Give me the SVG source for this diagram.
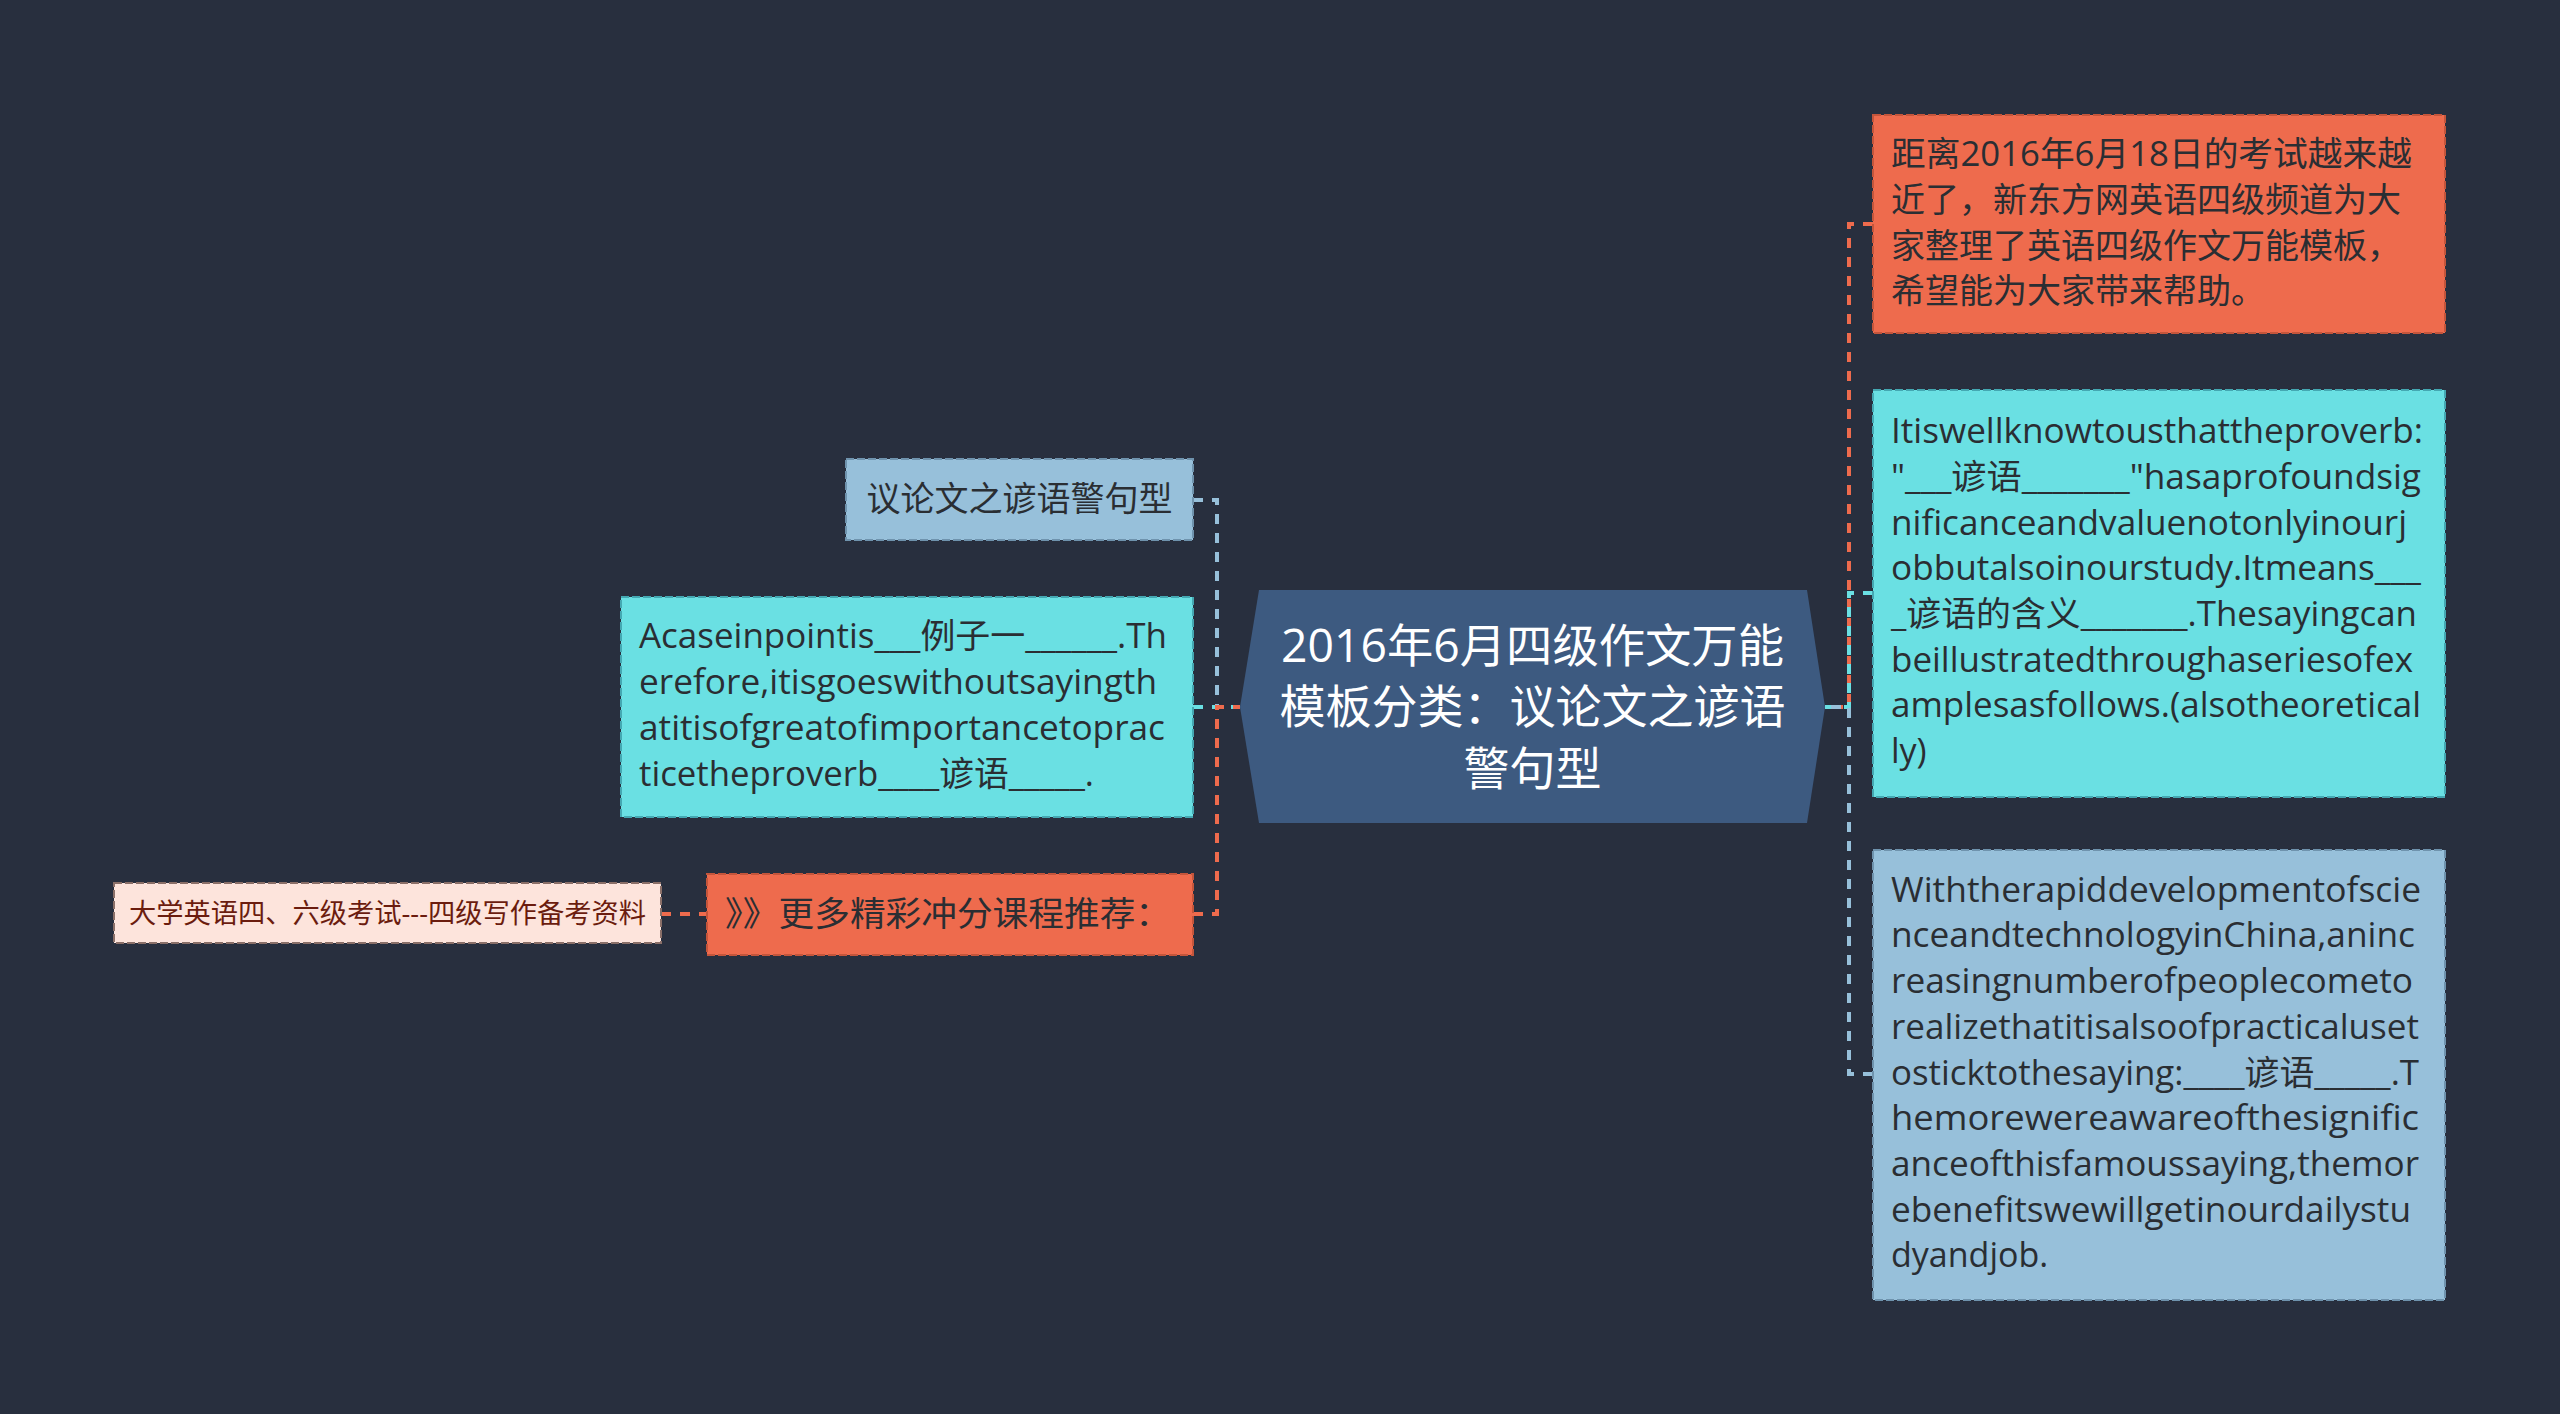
<svg xmlns="http://www.w3.org/2000/svg" width="2560" height="1414" viewBox="0 0 2560 1414">
<style>
  .bg{fill:#282f3e}
  .t{font-family:"Open Sans","Noto Sans CJK SC",sans-serif;font-size:34px;fill:#2a2e33}
  .root-shape{fill:#3d5a80}
  .root-t{font-family:"Open Sans","Noto Sans CJK SC",sans-serif;font-size:46px;fill:#ffffff;text-anchor:middle}
  .box{stroke-width:2;stroke-dasharray:8 3}
  .orange{fill:#ee6b4d;stroke:#c4553b}
  .cyan{fill:#6ae0e3;stroke:#44a8b2}
  .blue{fill:#97c0da;stroke:#6f93ad}
  .peach{fill:#fde4dc;stroke:#8a6f68}
  .peach-t{font-family:"Open Sans","Noto Sans CJK SC",sans-serif;font-size:27px;fill:#6b1c0e}
  .c{fill:none;stroke-width:4;stroke-dasharray:10 9}
  .c-o{stroke:#ee6b4d}
  .c-c{stroke:#6ae0e3}
  .c-b{stroke:#97c0da}
</style>
<rect class="bg" x="0" y="0" width="2560" height="1414"/>

<g id="connectors">
  <path class="c c-b" d="M1193,500 H1217 V707 H1240"/>
  <path class="c c-c" d="M1193,707 H1240"/>
  <path class="c c-o" d="M1193,914 H1217 V707 H1240"/>
  <path class="c c-o" d="M661,914 H707"/>
  <path class="c c-o" d="M1873,224 H1849 V707 H1825"/>
  <path class="c c-c" d="M1873,593 H1849 V707 H1825"/>
  <path class="c c-b" d="M1873,1074 H1849 V707 H1825"/>
</g>

<g id="root">
  <polygon class="root-shape" points="1240,707 1259,590 1807,590 1825,707 1807,823 1259,823"/>
  <text class="root-t" x="1532.5" y="662" textLength="503" lengthAdjust="spacingAndGlyphs">2016年6月四级作文万能</text>
  <text class="root-t" x="1532.5" y="723">模板分类：议论文之谚语</text>
  <text class="root-t" x="1532.5" y="785">警句型</text>
</g>

<g id="node-intro">
  <rect class="box orange" x="1873" y="115" width="572" height="218"/>
  <text class="t" x="1891" y="166" textLength="521" lengthAdjust="spacingAndGlyphs">距离2016年6月18日的考试越来越</text>
  <text class="t" x="1891" y="212">近了，新东方网英语四级频道为大</text>
  <text class="t" x="1891" y="258">家整理了英语四级作文万能模板，</text>
  <text class="t" x="1891" y="303">希望能为大家带来帮助。</text>
</g>

<g id="node-proverb">
  <rect class="box cyan" x="1873" y="390" width="572" height="407"/>
  <text class="t" x="1891" y="443" textLength="532" lengthAdjust="spacingAndGlyphs">Itiswellknowtousthattheproverb:</text>
  <text class="t" x="1891" y="489" textLength="530" lengthAdjust="spacingAndGlyphs">"___谚语_______"hasaprofoundsig</text>
  <text class="t" x="1891" y="535" textLength="516" lengthAdjust="spacingAndGlyphs">nificanceandvaluenotonlyinourj</text>
  <text class="t" x="1891" y="580" textLength="530" lengthAdjust="spacingAndGlyphs">obbutalsoinourstudy.Itmeans___</text>
  <text class="t" x="1891" y="626" textLength="526" lengthAdjust="spacingAndGlyphs">_谚语的含义_______.Thesayingcan</text>
  <text class="t" x="1891" y="672" textLength="522" lengthAdjust="spacingAndGlyphs">beillustratedthroughaseriesofex</text>
  <text class="t" x="1891" y="717" textLength="530" lengthAdjust="spacingAndGlyphs">amplesasfollows.(alsotheoretical</text>
  <text class="t" x="1891" y="763">ly)</text>
</g>

<g id="node-development">
  <rect class="box blue" x="1873" y="850" width="572" height="450"/>
  <text class="t" x="1891" y="902" textLength="530" lengthAdjust="spacingAndGlyphs">Withtherapiddevelopmentofscie</text>
  <text class="t" x="1891" y="947" textLength="524" lengthAdjust="spacingAndGlyphs">nceandtechnologyinChina,aninc</text>
  <text class="t" x="1891" y="993" textLength="522" lengthAdjust="spacingAndGlyphs">reasingnumberofpeoplecometo</text>
  <text class="t" x="1891" y="1039" textLength="528" lengthAdjust="spacingAndGlyphs">realizethatitisalsoofpracticaluset</text>
  <text class="t" x="1891" y="1085" textLength="528" lengthAdjust="spacingAndGlyphs">osticktothesaying:____谚语_____.T</text>
  <text class="t" x="1891" y="1130" textLength="528" lengthAdjust="spacingAndGlyphs">hemorewereawareofthesignific</text>
  <text class="t" x="1891" y="1176" textLength="528" lengthAdjust="spacingAndGlyphs">anceofthisfamoussaying,themor</text>
  <text class="t" x="1891" y="1222" textLength="520" lengthAdjust="spacingAndGlyphs">ebenefitswewillgetinourdailystu</text>
  <text class="t" x="1891" y="1267">dyandjob.</text>
</g>

<g id="node-type">
  <rect class="box blue" x="846" y="459" width="347" height="81"/>
  <text class="t" x="1019.5" y="511" text-anchor="middle">议论文之谚语警句型</text>
</g>

<g id="node-case">
  <rect class="box cyan" x="621" y="597" width="572" height="220"/>
  <text class="t" x="639" y="648" textLength="528" lengthAdjust="spacingAndGlyphs">Acaseinpointis___例子一______.Th</text>
  <text class="t" x="639" y="694" textLength="518" lengthAdjust="spacingAndGlyphs">erefore,itisgoeswithoutsayingth</text>
  <text class="t" x="639" y="740" textLength="526" lengthAdjust="spacingAndGlyphs">atitisofgreatofimportancetoprac</text>
  <text class="t" x="639" y="786" textLength="455" lengthAdjust="spacingAndGlyphs">ticetheproverb____谚语_____.</text>
</g>

<g id="node-more">
  <rect class="box orange" x="707" y="874" width="486" height="81"/>
  <text class="t" x="725" y="926" textLength="446" lengthAdjust="spacingAndGlyphs">》》更多精彩冲分课程推荐：</text>
</g>

<g id="node-cet">
  <rect class="box peach" x="114" y="883" width="547" height="60"/>
  <text class="peach-t" x="129" y="923" textLength="517" lengthAdjust="spacingAndGlyphs">大学英语四、六级考试---四级写作备考资料</text>
</g>
</svg>
